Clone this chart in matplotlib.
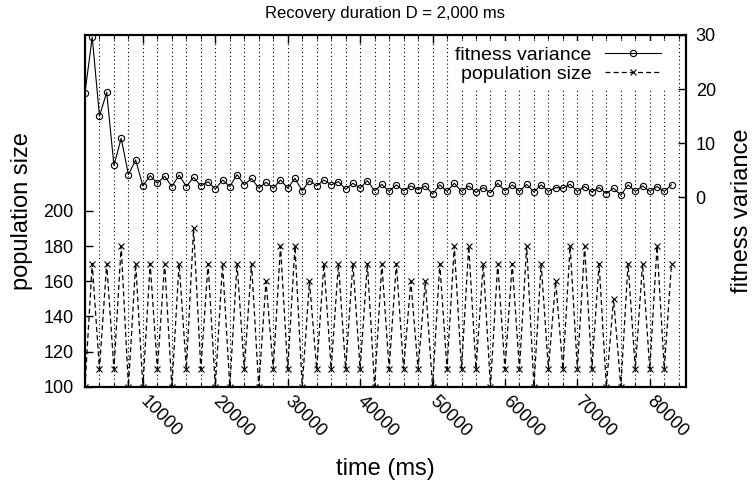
import matplotlib
matplotlib.use("Agg")
import matplotlib.pyplot as plt
from matplotlib.ticker import MultipleLocator, FixedLocator

plt.rcParams['font.family'] = ['Liberation Sans', 'DejaVu Sans']

time_ms = [2000, 3000, 4000, 5000, 6000, 7000, 8000, 9000, 10000, 11000,
           12000, 13000, 14000, 15000, 16000, 17000, 18000, 19000, 20000, 21000,
           22000, 23000, 24000, 25000, 26000, 27000, 28000, 29000, 30000, 31000,
           32000, 33000, 34000, 35000, 36000, 37000, 38000, 39000, 40000, 41000,
           42000, 43000, 44000, 45000, 46000, 47000, 48000, 49000, 50000, 51000,
           52000, 53000, 54000, 55000, 56000, 57000, 58000, 59000, 60000, 61000,
           62000, 63000, 64000, 65000, 66000, 67000, 68000, 69000, 70000, 71000,
           72000, 73000, 74000, 75000, 76000, 77000, 78000, 79000, 80000, 81000,
           82000, 83000]

fitness_variance = [19.3, 29.6, 15.0, 19.4, 5.9, 10.9, 4.2, 6.9, 2.1, 4.0,
                    2.6, 3.9, 2.0, 4.1, 2.0, 3.7, 2.1, 2.9, 1.5, 3.2,
                    2.0, 4.2, 2.3, 3.5, 1.7, 2.8, 1.7, 3.2, 1.7, 3.5,
                    1.2, 3.1, 2.1, 3.2, 2.3, 2.9, 1.5, 2.6, 1.7, 3.1,
                    1.2, 2.4, 1.1, 2.3, 1.2, 2.1, 1.4, 2.1, 0.6, 2.3,
                    1.1, 2.6, 1.1, 2.1, 0.9, 1.8, 0.8, 2.6, 1.2, 2.3,
                    1.1, 2.4, 1.0, 2.3, 1.1, 1.8, 1.7, 2.4, 1.1, 2.0,
                    1.0, 1.8, 0.7, 1.7, 0.4, 2.3, 1.1, 2.1, 1.1, 2.0,
                    1.1, 2.3]

population_size = [100, 170, 110, 170, 110, 180, 100, 170, 100, 170,
                   110, 170, 100, 170, 110, 190, 110, 170, 100, 170,
                   100, 170, 110, 170, 100, 160, 110, 180, 110, 180,
                   100, 160, 110, 170, 110, 170, 110, 170, 110, 170,
                   100, 170, 110, 170, 110, 160, 110, 160, 100, 170,
                   110, 180, 110, 180, 110, 170, 100, 170, 110, 170,
                   110, 180, 100, 170, 110, 160, 110, 180, 110, 180,
                   110, 170, 100, 150, 100, 170, 110, 170, 110, 180,
                   110, 170]

x_ticks = [10000, 20000, 30000, 40000, 50000, 60000, 70000, 80000]
left_ticks = [100, 120, 140, 160, 180, 200]
right_ticks = [0, 10, 20, 30]

fig = plt.figure(figsize=(7.54, 4.86), dpi=100)
ax = fig.add_axes([0.1127, 0.2043, 0.7971, 0.7237])
ax2 = ax.twinx()

pop_line, = ax.plot(time_ms, population_size, color='black', lw=0.9,
                    linestyle=(0, (4, 2.5)), marker='x', markersize=4,
                    markeredgewidth=0.8, label='population size')
fit_line, = ax2.plot(time_ms, fitness_variance, color='black', lw=0.8,
                     marker='o', markersize=4.5, fillstyle='none',
                     markeredgewidth=0.8, label='fitness variance')

ax.set_xlim(2000, 85000)
ax.set_ylim(100, 300)
ax2.set_ylim(-35, 30)

ax.xaxis.set_major_locator(FixedLocator(x_ticks))
ax.xaxis.set_minor_locator(MultipleLocator(2000))
ax.set_yticks(left_ticks)
ax2.set_yticks(right_ticks)

ax.grid(True, which='both', axis='x', color='black', lw=0.8,
        linestyle=(0, (1, 2.5)))
ax.set_axisbelow(True)

ax.tick_params(axis='x', which='major', direction='in', top=True, length=6,
               width=1, labelsize=13, pad=9)
ax.tick_params(axis='x', which='minor', direction='in', top=True, length=3,
               width=0.8)
ax.tick_params(axis='y', direction='in', right=False, length=6, width=1,
               labelsize=13, pad=8)
ax2.tick_params(axis='y', direction='in', length=6, width=1, labelsize=13,
                pad=7)

for lbl in ax.get_xticklabels():
    lbl.set_rotation(-45)
    lbl.set_ha('left')
    lbl.set_va('center')
    lbl.set_rotation_mode('anchor')

for a in (ax, ax2):
    for sp in a.spines.values():
        sp.set_linewidth(1.5)

ax.set_xlabel('time (ms)', fontsize=17, labelpad=12)
ax.set_ylabel('population size', fontsize=17, labelpad=8)
ax2.set_ylabel('fitness variance', fontsize=17, labelpad=11)
ax.set_title('Recovery duration D = 2,000 ms', fontsize=12, pad=12)

leg = ax2.legend([fit_line, pop_line], ['fitness variance', 'population size'],
                 loc='upper right', bbox_to_anchor=(0.975, 0.995),
                 markerfirst=False, fontsize=14, handlelength=2.9,
                 handletextpad=0.7, labelspacing=0.05, borderpad=0.3,
                 borderaxespad=0.2, frameon=True, fancybox=False,
                 facecolor='white', edgecolor='none', framealpha=1)

fig.savefig('out.png', dpi=100)
